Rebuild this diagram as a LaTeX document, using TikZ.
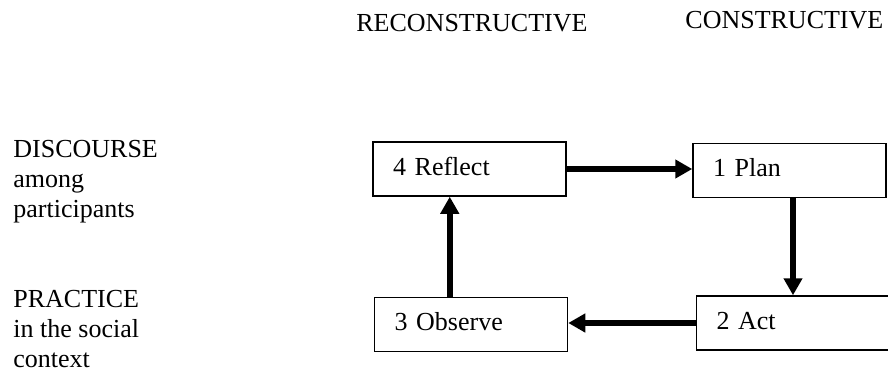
\documentclass[tikz,border=0pt]{standalone}
\usepackage{fontspec}
\setmainfont{Liberation Serif}
\usetikzlibrary{arrows.meta}
\begin{document}
\begin{tikzpicture}[x=0.5pt,y=-0.5pt,line join=miter,font=\fontsize{13}{15}\selectfont]
		\tikzset{stage/.style={draw,line width=0.75pt,minimum height=27pt,text width=76.5pt,text height=9pt,text depth=3pt,inner xsep=10pt,align=left},
			flow/.style={line width=2.75pt,-{Triangle[length=8.5pt,width=9pt]}},
			side/.style={anchor=north west,inner sep=0pt,align=left}}
		\useasboundingbox (0,0) rectangle (888,374);
		\node[anchor=base west,inner sep=0pt] (recon) at (356,32) {RECONSTRUCTIVE};
		\node[anchor=base west,inner sep=0pt] (con) at (685,29) {CONSTRUCTIVE};
		\node[side] (discourse) at (13,140) {DISCOURSE\\among\\participants};
		\node[side] (practice) at (13,290) {PRACTICE\\in the social\\context};
		\node[stage] (reflect) at (469.5,169) {4 Reflect};
		\node[stage] (plan) at (789.5,170.5) {1 Plan};
		\node[stage] (observe) at (471,324.5) {3 Observe};
		\node[stage] (act) at (793,323) {2 Act};
		\draw[flow] (reflect.east) -- (reflect.east -| plan.west);
		\draw[flow] (act.north |- plan.south) -- (act.north);
		\draw[flow] (act.west) -- (act.west -| observe.east);
		\draw[flow] ([xshift=38pt]observe.north west) -- ([xshift=38pt]observe.north west |- reflect.south);
\end{tikzpicture}
\end{document}
